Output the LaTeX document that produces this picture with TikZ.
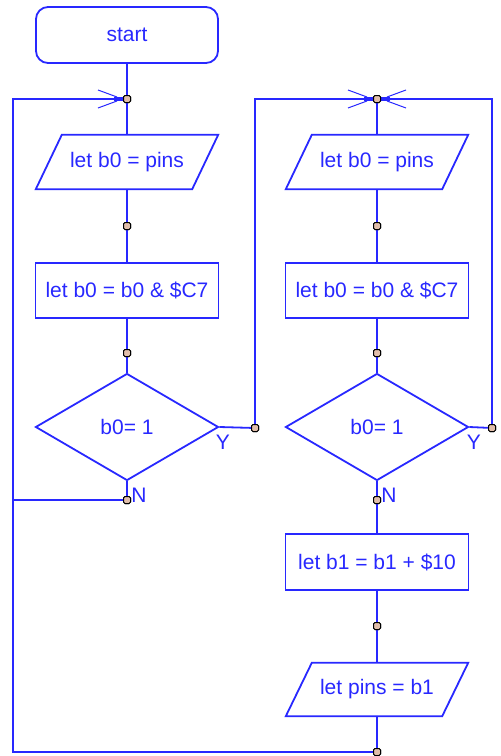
\documentclass[tikz,border=0pt]{standalone}
\usepackage{fontspec}
\setmainfont{Liberation Sans}
\usetikzlibrary{shapes.geometric,calc}
\definecolor{fc}{RGB}{40,40,255}
\definecolor{dotfill}{RGB}{225,190,170}
\begin{document}
\begin{tikzpicture}[x=1pt,y=-1pt,
  every node/.style={text=fc,font=\fontsize{21}{24}\selectfont},
  ln/.style={draw=fc,line width=1.8pt},
  startbox/.style={ln,rectangle,rounded corners=12pt,minimum width=182pt,minimum height=56pt,inner sep=0pt},
  procbox/.style={ln,rectangle,minimum width=183pt,minimum height=55pt,inner sep=0pt},
  iobox/.style={rectangle,minimum width=182pt,minimum height=54pt,inner sep=0pt},
  decbox/.style={ln,diamond,minimum width=183pt,minimum height=107pt,inner sep=0pt},
  dotbox/.style={rectangle,rounded corners=1.5pt,draw=black,fill=dotfill,line width=1pt,minimum size=7pt,inner sep=0pt},
  lbl/.style={inner sep=0pt},
  conn/.style={draw=fc,line width=1.8pt},
  feather/.pic={
    \draw[fc,line width=1pt] (-29,-9) -- (-10,-2);
    \draw[fc,line width=1pt] (-29,9) -- (-10,2);
    \draw[fc,line width=4.5pt] (-13,0) -- (-3,0);
  }
]
\useasboundingbox (0,0) rectangle (501,756);

% left column
\node[startbox] (start) at (127,35) {start};
\node[iobox] (p1) at (127,162) {let b0 = pins};
\node[procbox] (r1) at (127,290.5) {let b0 = b0 \& \$C7};
\node[decbox] (dia1) at (127,427) {b0= 1};

% right column
\node[iobox] (p2) at (377,162) {let b0 = pins};
\node[procbox] (r2) at (377,290.5) {let b0 = b0 \& \$C7};
\node[decbox] (dia2) at (377,427) {b0= 1};
\node[procbox, minimum height=56pt] (r3) at (377,562) {let b1 = b1 + \$10};
\node[iobox, minimum height=53pt] (p3) at (377,689.5) {let pins = b1};

% parallelogram outlines
\foreach \p in {p1,p2,p3}{
  \draw[ln,line join=miter] ($(\p.north west)+(26,0)$) -- (\p.north east) -- ($(\p.south east)-(26,0)$) -- (\p.south west) -- cycle;
}

% dots / junctions
\node[dotbox] (J1) at (127,99) {};
\node[dotbox] (J2) at (377,99) {};
\node[dotbox] (d1) at (127,226) {};
\node[dotbox] (d2) at (127,353) {};
\node[dotbox] (n1) at (127,500) {};
\node[dotbox] (y1) at (255,428) {};
\node[dotbox] (d3) at (377,226) {};
\node[dotbox] (d4) at (377,353) {};
\node[dotbox] (n2) at (377,500) {};
\node[dotbox] (y2) at (492,428) {};
\node[dotbox] (d5) at (377,626) {};
\node[dotbox] (d6) at (377,752) {};

\coordinate (c1) at (13,99);
\coordinate (c2) at (13,752);
\coordinate (c3) at (13,500);
\coordinate (c4) at (255,99);
\coordinate (c5) at (492,99);

% labels
\node[lbl] (ly1) at (223,442) {Y};
\node[lbl] (ln1) at (139,495) {N};
\node[lbl] (ly2) at (474,442) {Y};
\node[lbl] (ln2) at (389,495) {N};

% connectors left column
\draw[conn] (start.south) -- (J1.center) -- (p1.north);
\draw[conn] (p1.south) -- (d1.center) -- (r1.north);
\draw[conn] (r1.south) -- (d2.center) -- (dia1.north);
\draw[conn] (dia1.south) -- (n1.center);
\draw[conn] (n1.center) -- (c3);
\draw[conn] (d6.center) -- (c2) -- (c1) -- (J1.center);
\draw[conn] (dia1.east) -- (y1.center) -- (c4) -- (J2.center);
% right column
\draw[conn] (J2.center) -- (p2.north);
\draw[conn] (p2.south) -- (d3.center) -- (r2.north);
\draw[conn] (r2.south) -- (d4.center) -- (dia2.north);
\draw[conn] (dia2.south) -- (n2.center) -- (r3.north);
\draw[conn] (r3.south) -- (d5.center) -- (p3.north);
\draw[conn] (p3.south) -- (d6.center);
\draw[conn] (dia2.east) -- (y2.center) -- (c5) -- (J2.center);

% arrow marks at junctions
\pic at (J1) {feather};
\pic at (J2) {feather};
\pic[xscale=-1] at (J2) {feather};

% redraw dots on top
\foreach \d in {J1,J2,d1,d2,n1,y1,d3,d4,n2,y2,d5,d6}{
  \node[dotbox] at (\d) {};
}
\end{tikzpicture}
\end{document}
